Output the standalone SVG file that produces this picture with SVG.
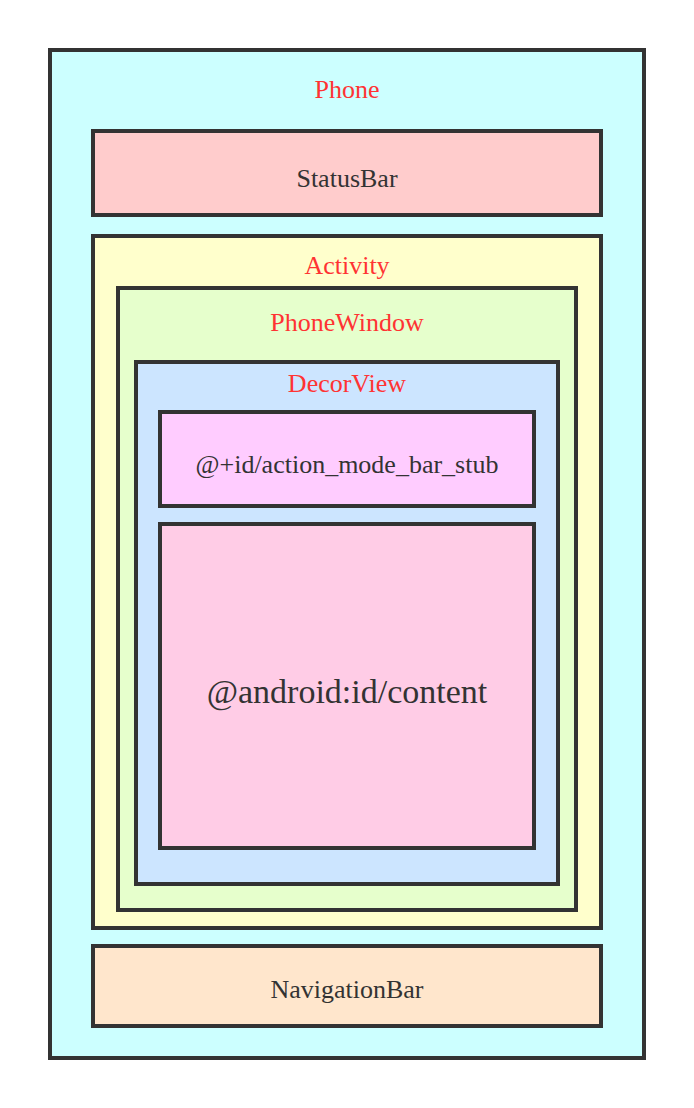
<svg xmlns="http://www.w3.org/2000/svg" width="694" height="1108" viewBox="0 0 694 1108">
<style>
rect{stroke:#333333;stroke-width:4}
text{font-family:"Liberation Serif","Times New Roman",serif;text-anchor:middle;font-size:26px}
.t{fill:#ff3333}
.d{fill:#333333}
</style>
<rect x="0" y="0" width="694" height="1108" fill="#ffffff" style="stroke:none"/>
<g id="phone"><rect x="50" y="50" width="594" height="1008" fill="#ccffff"/><text class="t" x="347" y="98">Phone</text></g>
<g id="statusbar"><rect x="93" y="131" width="508" height="84" fill="#ffcccc"/><text class="d" x="347" y="187">StatusBar</text></g>
<g id="activity"><rect x="93" y="236" width="508" height="692" fill="#ffffcc"/><text class="t" x="347" y="274">Activity</text></g>
<g id="phonewindow"><rect x="118" y="288" width="458" height="622" fill="#e6ffcc"/><text class="t" x="347" y="331">PhoneWindow</text></g>
<g id="decorview"><rect x="136" y="362" width="422" height="522" fill="#cce5ff"/><text class="t" x="347" y="392">DecorView</text></g>
<g id="stub"><rect x="160" y="412" width="374" height="94" fill="#ffccff"/><text class="d" x="347" y="473">@+id/action_mode_bar_stub</text></g>
<g id="content"><rect x="160" y="524" width="374" height="324" fill="#ffcce6"/><text class="d" x="347" y="703" style="font-size:34px">@android:id/content</text></g>
<g id="navigationbar"><rect x="93" y="946" width="508" height="80" fill="#ffe6cc"/><text class="d" x="347" y="998">NavigationBar</text></g>
<g id="connectors"></g>
</svg>
